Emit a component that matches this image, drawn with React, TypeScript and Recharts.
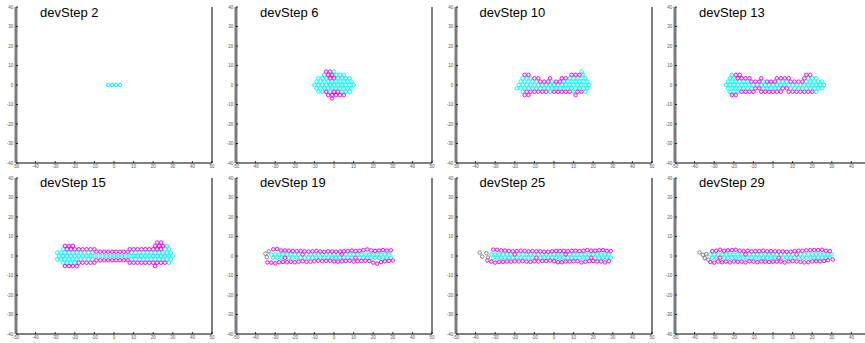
import React from 'react';
import { ScatterChart, Scatter, XAxis, YAxis, ReferenceLine } from 'recharts';

type Pt = [number, number];
type Row = [number, number[]];

const X_TICKS = [-50, -40, -30, -20, -10, 0, 10, 20, 30, 40, 50];
const Y_TICKS = [-40, -30, -20, -10, 0, 10, 20, 30, 40];
const TITLES = ['devStep 2', 'devStep 6', 'devStep 10', 'devStep 13', 'devStep 15', 'devStep 19', 'devStep 25', 'devStep 29'];

const flat = (rows: Row[]): Pt[] => rows.flatMap(([y, xs]) => xs.map((x) => [x, y] as Pt));

// ---- devStep 2
const p1CyanRows: Row[] = [[0, [-3, -1, 1, 3]]];

// ---- devStep 6
const p2CyanRows: Row[] = [
  [6.9, [0]],
  [5.2, [-5, 1, 3, 5]],
  [3.46, [-8, -6, -4, 2, 4, 6, 8]],
  [1.73, [-9, -7, -5, -3, -1, 1, 3, 5, 7, 9]],
  [0, [-10, -8, -6, -4, -2, 0, 2, 4, 6, 8, 10]],
  [-1.73, [-9, -7, -5, -3, -1, 1, 3, 5, 7, 9]],
  [-3.46, [-8, -6, -2, 4, 6, 8]],
];
const p2MagentaRows: Row[] = [
  [6.9, [-4, -2]],
  [5.2, [-3, -1]],
  [3.46, [-2, 0]],
  [-3.46, [-4, 0, 2]],
  [-5.2, [-3, -1, 1, 3, 5]],
  [-6.9, [-1]],
];

// ---- devStep 10
const p3CyanRows: Row[] = [
  [6.9, [14]],
  [5.2, [15]],
  [3.46, [-16, -14, -12, 8, 10, 12, 14, 16]],
  [1.73, [-17, -15, -13, -11, -9, -1, 5, 7, 9, 11, 13, 15, 17]],
  [0, [-18, -16, -14, -12, -10, -8, -6, -4, -2, 0, 2, 4, 6, 8, 10, 12, 14, 16, 18]],
  [-1.73, [-19, -17, -15, -13, -11, -9, -7, -5, -3, -1, 1, 3, 5, 7, 9, 11, 13, 15, 17]],
  [-3.46, [-16, -2, 10, 16]],
];
const p3MagentaRows: Row[] = [
  [5.2, [-15, -13, 9, 11, 13]],
  [3.46, [-10, -8, -2, 4, 6]],
  [1.73, [-7, -5, -3, 1, 3]],
  [-3.46, [-14, -12, -10, -8, -6, -4, 0, 2, 4, 6, 8, 12, 14]],
  [-5.2, [-15, -13, 11]],
];

// ---- devStep 13
const p4CyanRows: Row[] = [
  [5.2, [-21]],
  [3.46, [-22, -20, 18, 20, 22]],
  [1.73, [-23, -21, -19, -17, -15, -13, -5, 3, 5, 7, 17, 19, 21, 23, 25]],
  [0, [-24, -22, -20, -18, -16, -14, -12, -10, -8, -6, -4, -2, 0, 2, 4, 6, 8, 10, 12, 14, 16, 18, 20, 22, 24, 26]],
  [-1.73, [-23, -21, -19, -17, -15, -13, -11, -5, -3, -1, 1, 3, 9, 11, 13, 15, 17, 19, 21, 23, 25]],
  [-3.46, [-22, -20, -18, 22]],
];
const p4MagentaRows: Row[] = [
  [5.2, [-19, -17, 17, 19]],
  [3.46, [-18, -16, -14, -12, -6, 2, 4, 6, 8, 16]],
  [1.73, [-11, -9, -7, -3, -1, 1, 9, 11, 13, 15]],
  [-1.73, [-9, -7, 5, 7]],
  [-3.46, [-16, -14, -12, -10, -6, -4, -2, 0, 2, 4, 8, 10, 12, 14, 16, 18, 20]],
  [-5.2, [-21, -19]],
];

// ---- devStep 15
const p5CyanRows: Row[] = [
  [5.2, [27]],
  [3.46, [-26, 26, 28]],
  [1.73, [-29, -27, -25, -23, -21, -19, -17, -15, -13, -11, 9, 11, 13, 15, 17, 19, 21, 23, 25, 27, 29]],
  [0, [-28, -26, -24, -22, -20, -18, -16, -14, -12, -10, -8, -6, -4, -2, 0, 2, 4, 6, 8, 10, 12, 14, 16, 18, 20, 22, 24, 26, 28, 30]],
  [-1.73, [-29, -27, -25, -23, -21, -19, -17, -15, -13, -11, 9, 11, 13, 15, 17, 19, 21, 23, 25, 27, 29]],
  [-3.46, [-26, -24, -22, -20, 28]],
];
const p5MagentaRows: Row[] = [
  [6.9, [22, 24]],
  [5.2, [-25, -23, -21, 21, 23, 25]],
  [3.46, [-24, -22, -20, -18, -16, -14, -12, -10, 8, 10, 12, 14, 16, 18, 20, 22, 24]],
  [2.2, [-9, -7, -5, -3, -1, 1, 3, 5, 7]],
  [-2.2, [-9, -7, -5, -3, -1, 1, 3, 5, 7]],
  [-3.46, [-18, -16, -14, -12, -10, 8, 10, 12, 14, 16, 18, 20, 22, 24, 26]],
  [-5.2, [-25, -23, -21, -19, 21]],
];

// ---- devStep 19
const p6Gray: Pt[] = [[-35, 1.2], [-33.3, 2.4], [-34.3, -0.6]];
const p6Top: Pt[] = [[-31, 3.4], [-29, 3.6], [-27, 2.8], [-25, 2.8], [-23, 2.7], [-21, 2.5], [-19, 2.5], [-17, 2.6], [-15, 2.4], [-13, 2.3], [-11, 2.4], [-9, 2.6], [-7, 2.3], [-5, 2.1], [-3, 2.4], [-1, 2.3], [1, 2.2], [3, 2.3], [5, 2.4], [7, 2.5], [9, 2.8], [11, 2.5], [13, 2.7], [15, 3.0], [17, 3.4], [19, 2.8], [21, 2.6], [23, 2.8], [25, 3.0], [27, 2.8], [29, 2.9]];
const p6Bottom: Pt[] = [[-34, -3.3], [-32, -3.4], [-30, -3.8], [-28, -3.2], [-26, -3.0], [-24, -3.2], [-22, -3.0], [-20, -3.2], [-18, -2.9], [-16, -2.7], [-14, -3.0], [-12, -2.9], [-10, -2.7], [-8, -2.4], [-6, -2.7], [-4, -2.5], [-2, -2.4], [0, -2.8], [2, -2.9], [4, -2.7], [6, -2.5], [8, -2.4], [10, -2.8], [12, -2.7], [14, -2.6], [16, -2.4], [18, -2.6], [20, -3.4], [22, -3.9], [24, -3.1], [26, -2.7], [28, -2.5], [30, -2.3]];
const p6Mid: Pt[] = [[-16, 0.8], [4, 0.8], [-25, -0.9], [11, -0.9]];
const p6CyanRows: Row[] = [
  [0.8, [-32, -30, -28, -26, -24, -22, -20, -18, -14, -12, -10, -8, -6, -4, -2, 0, 2, 6, 8, 10, 12, 14, 16, 18, 20, 22, 24, 26, 28]],
  [-0.9, [-31, -29, -27, -23, -21, -19, -17, -15, -13, -11, -9, -7, -5, -3, -1, 1, 3, 5, 7, 9, 13, 15, 17, 19, 21, 23, 25, 27, 29]],
];

// ---- devStep 25
const p7Gray: Pt[] = [[-37.9, 1.7], [-36.6, -0.3], [-34.5, 1.4], [-33.7, -0.8]];
const p7Top: Pt[] = [[-31, 3.3], [-29, 3.2], [-27, 2.9], [-25, 2.8], [-23, 2.6], [-21, 2.4], [-19, 2.5], [-17, 2.7], [-15, 2.6], [-13, 2.4], [-11, 2.5], [-9, 2.4], [-7, 2.4], [-5, 2.2], [-3, 2.2], [-1, 2.4], [1, 2.6], [3, 2.5], [5, 2.6], [7, 2.4], [9, 2.6], [11, 2.7], [13, 2.5], [15, 2.7], [17, 3.0], [19, 2.7], [21, 2.7], [23, 2.9], [25, 3.0], [27, 2.7], [29, 2.5]];
const p7Bottom: Pt[] = [[-34, -2.3], [-32, -2.9], [-30, -3.4], [-28, -3.0], [-26, -3.0], [-24, -2.8], [-22, -2.9], [-20, -2.7], [-18, -2.8], [-16, -2.6], [-14, -2.9], [-12, -3.0], [-10, -2.7], [-8, -2.8], [-6, -2.6], [-4, -2.6], [-2, -2.3], [0, -2.7], [2, -3.2], [4, -3.2], [6, -2.8], [8, -2.8], [10, -2.7], [12, -2.7], [14, -3.3], [16, -2.9], [18, -2.7], [20, -2.6], [22, -2.8], [24, -2.8], [26, -3.3], [28, -2.7]];
const p7Mid: Pt[] = [[-20, 0.8], [6, 0.8], [-9, -0.9], [19, -0.9]];
const p7CyanRows: Row[] = [
  [0.8, [-32, -30, -28, -26, -24, -22, -18, -16, -14, -12, -10, -8, -6, -4, -2, 0, 2, 4, 8, 10, 12, 14, 16, 18, 20, 22, 24, 26, 28]],
  [-0.9, [-31, -29, -27, -25, -23, -21, -19, -17, -15, -13, -11, -7, -5, -3, -1, 1, 3, 5, 7, 9, 11, 13, 15, 17, 21, 23, 25, 27, 29]],
];

// ---- devStep 29
const p8Gray: Pt[] = [[-37.5, 1.8], [-35.8, 0.6], [-34, 1.0], [-34.8, -1.1], [-33, -1.9]];
const p8Top: Pt[] = [[-31, 2.5], [-29, 2.7], [-27, 3.2], [-25, 2.7], [-23, 2.9], [-21, 3.0], [-19, 3.2], [-17, 2.7], [-15, 2.5], [-13, 2.7], [-11, 2.4], [-9, 2.5], [-7, 2.5], [-5, 2.7], [-3, 2.4], [-1, 2.5], [1, 2.4], [3, 2.3], [5, 2.3], [7, 2.2], [9, 2.2], [11, 2.5], [13, 2.7], [15, 2.7], [17, 2.9], [19, 3.0], [21, 3.0], [23, 3.0], [25, 3.2], [27, 2.7], [29, 2.5]];
const p8Bottom: Pt[] = [[-32, -3.1], [-30, -3.4], [-28, -2.8], [-26, -3.2], [-24, -2.9], [-22, -3.3], [-20, -2.8], [-18, -3.0], [-16, -2.9], [-14, -3.3], [-12, -2.7], [-10, -2.9], [-8, -3.2], [-6, -2.8], [-4, -2.9], [-2, -3.1], [0, -2.9], [2, -2.9], [4, -2.9], [6, -3.3], [8, -2.8], [10, -2.6], [12, -2.8], [14, -3.0], [16, -3.3], [18, -3.2], [20, -2.8], [22, -2.7], [24, -2.8], [26, -2.5], [28, -2.2], [30.5, -1.8]];
const p8Mid: Pt[] = [[-14, 0.8], [12, 0.8], [-27, -0.9], [3, -0.9]];
const p8CyanRows: Row[] = [
  [0.8, [-32, -30, -28, -26, -24, -22, -20, -18, -16, -12, -10, -8, -6, -4, -2, 0, 2, 4, 6, 8, 10, 14, 16, 18, 20, 22, 24, 26, 28, 30]],
  [-0.9, [-31, -29, -25, -23, -21, -19, -17, -15, -13, -11, -9, -7, -5, -3, -1, 1, 5, 7, 9, 11, 13, 15, 17, 19, 21, 23, 25, 27, 29]],
];

type PanelData = { title: string; cyan: Pt[]; magenta: Pt[]; gray: Pt[] };

const PANELS: PanelData[] = [
  { title: TITLES[0], cyan: flat(p1CyanRows), magenta: [], gray: [] },
  { title: TITLES[1], cyan: flat(p2CyanRows), magenta: flat(p2MagentaRows), gray: [] },
  { title: TITLES[2], cyan: flat(p3CyanRows), magenta: flat(p3MagentaRows), gray: [] },
  { title: TITLES[3], cyan: flat(p4CyanRows), magenta: flat(p4MagentaRows), gray: [] },
  { title: TITLES[4], cyan: flat(p5CyanRows), magenta: flat(p5MagentaRows), gray: [] },
  { title: TITLES[5], cyan: flat(p6CyanRows), magenta: [...p6Top, ...p6Mid, ...p6Bottom], gray: p6Gray },
  { title: TITLES[6], cyan: flat(p7CyanRows), magenta: [...p7Top, ...p7Mid, ...p7Bottom], gray: p7Gray },
  { title: TITLES[7], cyan: flat(p8CyanRows), magenta: [...p8Top, ...p8Mid, ...p8Bottom], gray: p8Gray },
];

const COL_X = [16, 236, 455.5, 675];
const ROW_Y = [7, 177.5];
const PW = 196;
const PH = 156;
const YW = 24;
const MT = 6;
const MR = 4;
const XH = 14;

const toObj = (pts: Pt[]) => pts.map(([x, y]) => ({ x, y }));

const ring = (color: string) => (props: any) => {
  const { cx, cy } = props;
  if (cx == null || cy == null) return <g />;
  return <circle cx={cx} cy={cy} r={1.75} fill="none" stroke={color} strokeWidth={1.0} />;
};

const tickStyle = { fontSize: 4.5, fill: '#555', fontFamily: 'Liberation Sans, Arial, sans-serif' };

function Panel({ p, col, row }: { p: PanelData; col: number; row: number }) {
  const left = COL_X[col] - YW;
  const top = ROW_Y[row] - MT;
  const lastCol = col === COL_X.length - 1;
  return (
    <div style={{ position: 'absolute', left, top }}>
      <ScatterChart width={YW + PW + MR} height={MT + PH + XH} margin={{ top: MT, right: MR, bottom: 0, left: 0 }}>
        <XAxis
          type="number"
          dataKey="x"
          domain={[-50, 50]}
          ticks={X_TICKS}
          interval={0}
          allowDataOverflow
          height={XH}
          axisLine={{ stroke: '#000', strokeWidth: 1 }}
          tickLine={{ stroke: '#000', strokeWidth: 0.8 }}
          tickSize={-2}
          tickMargin={3.5}
          tick={tickStyle}
          tickFormatter={(v: number) => (lastCol && v === 50 ? '' : String(v))}
        />
        <YAxis
          type="number"
          dataKey="y"
          domain={[-40, 40]}
          ticks={Y_TICKS}
          interval={0}
          allowDataOverflow
          width={YW}
          axisLine={{ stroke: '#7a7a7a', strokeWidth: 3 }}
          tickLine={{ stroke: '#000', strokeWidth: 0.8 }}
          tickSize={-2}
          tickMargin={4.7}
          tick={tickStyle}
        />
        <ReferenceLine x={50} stroke="#000" strokeWidth={1} />
        <Scatter data={toObj(p.cyan)} shape={ring('#00ffff')} isAnimationActive={false} />
        <Scatter data={toObj(p.magenta)} shape={ring('#ff00ff')} isAnimationActive={false} />
        <Scatter data={toObj(p.gray)} shape={ring('#808080')} isAnimationActive={false} />
      </ScatterChart>
      <div
        style={{
          position: 'absolute',
          left: YW + 24,
          top: MT - 1.4,
          fontFamily: 'Liberation Sans, Arial, sans-serif',
          fontSize: 13,
          lineHeight: '13px',
          color: '#000',
          whiteSpace: 'nowrap',
        }}
      >
        {p.title}
      </div>
    </div>
  );
}

export default function App() {
  return (
    <div style={{ position: 'absolute', left: 0, top: 0, width: 865, height: 343, overflow: 'hidden', background: '#fff' }}>
      {PANELS.map((p, i) => (
        <Panel key={i} p={p} col={i % 4} row={Math.floor(i / 4)} />
      ))}
    </div>
  );
}
